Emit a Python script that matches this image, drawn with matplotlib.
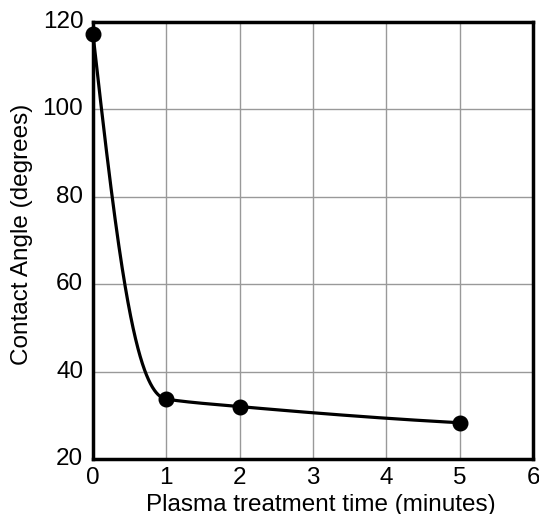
import numpy as np
import matplotlib
matplotlib.use("Agg")
import matplotlib.pyplot as plt
import matplotlib.transforms as mtransforms

plt.rcParams['font.family'] = ['Liberation Sans', 'DejaVu Sans']

# Data
time_min = [0, 1, 2, 5]
contact_angle = [117.2, 33.7, 32.0, 28.3]
x_ticks = [0, 1, 2, 3, 4, 5, 6]
y_ticks = [20, 40, 60, 80, 100, 120]

# Smooth curve styling: tangent slopes at each point and handle fractions
tangent_slopes = [-150.0, -2.5, -1.5, -0.9]
handle_out = [0.35, 0.33, 0.33]
handle_in = [0.42, 0.33, 0.33]


def smooth_curve(xs, ys, ms, hout, hin, n=200):
    cx, cy = [], []
    for i in range(len(xs) - 1):
        x0, y0, x3, y3 = xs[i], ys[i], xs[i + 1], ys[i + 1]
        dx = x3 - x0
        x1, y1 = x0 + hout[i] * dx, y0 + hout[i] * dx * ms[i]
        x2, y2 = x3 - hin[i] * dx, y3 - hin[i] * dx * ms[i + 1]
        t = np.linspace(0, 1, n)
        b0 = (1 - t) ** 3
        b1 = 3 * (1 - t) ** 2 * t
        b2 = 3 * (1 - t) * t ** 2
        b3 = t ** 3
        cx.append(b0 * x0 + b1 * x1 + b2 * x2 + b3 * x3)
        cy.append(b0 * y0 + b1 * y1 + b2 * y2 + b3 * y3)
    return np.concatenate(cx), np.concatenate(cy)


fig = plt.figure(figsize=(5.39, 5.14), dpi=100)
ax = fig.add_axes([93 / 539, 1 - 459 / 514, 440 / 539, 437 / 514])

cx, cy = smooth_curve(time_min, contact_angle, tangent_slopes, handle_out, handle_in)
ax.plot(cx, cy, color='black', lw=2.3, solid_capstyle='round', zorder=3)
ax.plot(time_min, contact_angle, 'o', color='black', ms=10.5, zorder=4, clip_on=False)

ax.set_xlim(0, 6)
ax.set_ylim(20, 120)
ax.set_xticks(x_ticks)
ax.set_yticks(y_ticks)
ax.grid(True, color='#999999', lw=1.0)
ax.set_axisbelow(True)
for s in ax.spines.values():
    s.set_linewidth(2.5)
    s.set_color('black')
ax.tick_params(length=0, labelsize=17.5, pad=7)
ax.tick_params(axis='x', pad=6)
ax.set_xlabel('Plasma treatment time (minutes)', fontsize=17.5)
ax.xaxis.set_label_coords(0.518, -0.079)
ax.xaxis.label.set_va('top')
ax.set_ylabel('Contact Angle (degrees)', fontsize=17.5)
ax.yaxis.set_label_coords(-0.161, 0.515)
ax.yaxis.label.set_va('center')

shift = mtransforms.ScaledTranslation(0, 2.5 / 100, fig.dpi_scale_trans)
for lab in ax.get_yticklabels():
    lab.set_transform(lab.get_transform() + shift)

fig.savefig('out.png', dpi=100)
